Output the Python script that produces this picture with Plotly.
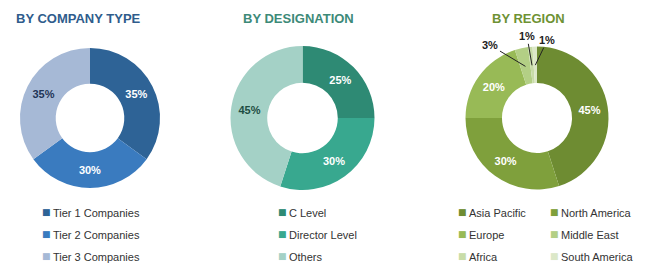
import math
import plotly.graph_objects as go

company_labels = ["Tier 1 Companies", "Tier 2 Companies", "Tier 3 Companies"]
company_values = [35, 30, 35]
company_colors = ["#2e6396", "#3a7bbf", "#a6b9d6"]

desig_labels = ["C Level", "Director Level", "Others"]
desig_values = [25, 30, 45]
desig_colors = ["#2e8a74", "#38a88f", "#a4d1c6"]

region_labels = ["Asia Pacific", "North America", "Europe", "Middle East", "Africa", "South America"]
region_values = [45, 30, 20, 3, 1, 1]
region_colors = ["#6e8c32", "#7fa03c", "#98ba56", "#b3cf85", "#c8dca8", "#dce8c8"]

W, H = 650, 278
FONT = "Liberation Sans, Arial"
BOLD = "Liberation Sans, Arial"

def px_domain(cx, cy, r):
    return dict(x=[(cx - r) / W, (cx + r) / W], y=[(H - cy - r) / H, (H - cy + r) / H])

COMP = (90, 118, 70)
DESIG = (302.5, 118, 72)
REG = (537, 118, 71.5)

fig = go.Figure()

fig.add_trace(go.Pie(
    labels=company_labels, values=company_values,
    marker=dict(colors=company_colors), hole=0.49, sort=False, direction="clockwise",
    rotation=0, texttemplate="%{value}%",
    textposition="inside", insidetextorientation="horizontal",
    textfont=dict(family=BOLD, size=11, color=["white", "white", "#1f3557"], weight="bold"),
    domain=px_domain(*COMP), showlegend=False,
))

fig.add_trace(go.Pie(
    labels=desig_labels, values=desig_values,
    marker=dict(colors=desig_colors), hole=0.49, sort=False, direction="clockwise",
    rotation=0, texttemplate="%{value}%",
    textposition="inside", insidetextorientation="horizontal",
    textfont=dict(family=BOLD, size=11, color=["white", "white", "#1e4d42"], weight="bold"),
    domain=px_domain(*DESIG), showlegend=False,
))

small = [v < 5 for v in region_values]
fig.add_trace(go.Pie(
    labels=region_labels, values=region_values,
    marker=dict(colors=region_colors), hole=0.49, sort=False, direction="clockwise",
    rotation=0, texttemplate="%{value}%",
    textposition=["none" if s else "inside" for s in small],
    insidetextorientation="horizontal",
    textfont=dict(family=BOLD, size=11, color="white", weight="bold"),
    domain=px_domain(*REG), showlegend=False,
))

annotations = []

# titles
for text, x, color in [("BY COMPANY TYPE", 78, "#2f5c8c"),
                       ("BY DESIGNATION", 298, "#3d8a78"),
                       ("BY REGION", 528, "#6e9234")]:
    annotations.append(dict(text=f"<b>{text}</b>", x=x / W, y=1 - 18 / H, xref="paper", yref="paper",
                            showarrow=False, xanchor="center", yanchor="middle",
                            font=dict(family=FONT, size=13, color=color)))

# callouts for small region slices, tip placed at slice mid-angle on the ring
label_offsets = {"Middle East": (-35, -21), "Africa": (-5, -29), "South America": (12, -25)}
cx, cy, R = REG
total = sum(region_values)
cum = 0
for name, v in zip(region_labels, region_values):
    mid = (cum + v / 2) / total * 2 * math.pi
    cum += v
    if name in label_offsets:
        rr = R * 0.74
        tx = cx + rr * math.sin(mid)
        ty = cy - rr * math.cos(mid)
        ax, ay = label_offsets[name]
        annotations.append(dict(text=f"<b>{v}%</b>", x=tx / W, y=1 - ty / H, xref="paper", yref="paper",
                                showarrow=True, arrowhead=0, arrowwidth=1, arrowcolor="#222222",
                                ax=ax, ay=ay, standoff=0,
                                font=dict(family=BOLD, size=11, color="#222222")))

# legends built from the label / colour lists
def add_legend(labels, colors, positions):
    for lab, col, (mx, my) in zip(labels, colors, positions):
        annotations.append(dict(text="■", x=mx / W, y=1 - my / H, xref="paper", yref="paper",
                                showarrow=False, xanchor="center", yanchor="middle",
                                font=dict(family="DejaVu Sans", size=9, color=col)))
        annotations.append(dict(text=lab, x=(mx + 5) / W, y=1 - (my + 0.5) / H, xref="paper", yref="paper",
                                showarrow=False, xanchor="left", yanchor="middle",
                                font=dict(family=FONT, size=11, color="#333333")))

rows = [212, 234, 256]
add_legend(company_labels, company_colors, [(46, y) for y in rows])
add_legend(desig_labels, desig_colors, [(282, y) for y in rows])
reg_pos = []
for i in range(len(region_labels)):
    reg_pos.append((462 if i % 2 == 0 else 554, rows[i // 2]))
add_legend(region_labels, region_colors, reg_pos)

fig.update_layout(
    width=W, height=H,
    margin=dict(l=0, r=0, t=0, b=0),
    paper_bgcolor="white", plot_bgcolor="white",
    showlegend=False,
    annotations=annotations,
)

fig.write_html("out.html")
